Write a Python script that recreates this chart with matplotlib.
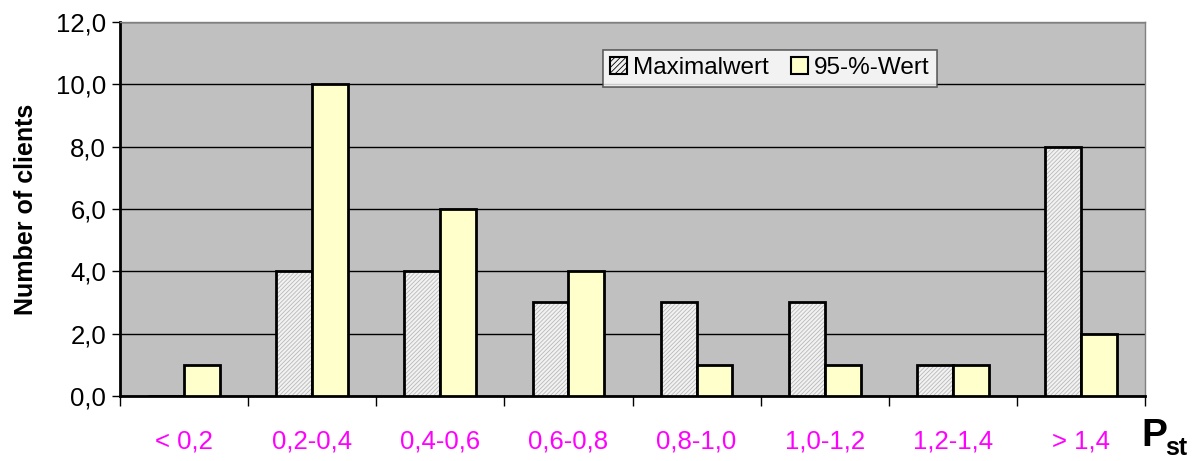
import matplotlib
matplotlib.use("Agg")
import matplotlib.pyplot as plt
import numpy as np
from matplotlib.ticker import FixedLocator, FuncFormatter
from matplotlib.patches import Patch

plt.rcParams['font.family'] = ['Liberation Sans', 'DejaVu Sans']
plt.rcParams['hatch.linewidth'] = 0.6

categories = ["< 0,2", "0,2-0,4", "0,4-0,6", "0,6-0,8", "0,8-1,0", "1,0-1,2", "1,2-1,4", "> 1,4"]
max_values = [0, 4, 4, 3, 3, 3, 1, 8]
p95_values = [1, 10, 6, 4, 1, 1, 1, 2]
y_ticks = [0, 2, 4, 6, 8, 10, 12]

fig = plt.figure(figsize=(12.01, 4.61), dpi=100)
ax = fig.add_axes([0.0999, 0.141, 0.8535, 0.8114])
ax.set_facecolor('#C0C0C0')

x = np.arange(len(categories))
w = 0.28
hatch_face = '#F2F2F2'
hatch_ink = '#B8B8B8'

# hatched fill for the maximum values, then a plain black outline on top
ax.bar(x - w / 2, max_values, w, color=hatch_face, edgecolor=hatch_ink,
       hatch='////////', linewidth=0, zorder=3)
ax.bar(x - w / 2, max_values, w, color='none', edgecolor='black',
       linewidth=2.0, zorder=4)
ax.bar(x + w / 2, p95_values, w, color='#FFFFCC', edgecolor='black',
       linewidth=2.0, zorder=4)

handles = [Patch(facecolor=hatch_face, edgecolor='black', hatch='//////', linewidth=1.5,
                 label='Maximalwert'),
           Patch(facecolor='#FFFFCC', edgecolor='black', linewidth=1.5, label='95-%-Wert')]
leg = ax.legend(handles=handles, loc='upper left', bbox_to_anchor=(0.471, 0.925),
                ncol=2, frameon=True, fancybox=False, fontsize=17.5, handlelength=0.7,
                handleheight=0.7, handletextpad=0.25, columnspacing=0.9,
                borderpad=0.3, borderaxespad=0)
leg.get_frame().set_edgecolor('#404040')
leg.get_frame().set_linewidth(1.2)
leg.set_zorder(6)

ax.set_xlim(-0.5, len(categories) - 0.5)
ax.set_ylim(0, 12)
ax.set_yticks(y_ticks)
ax.yaxis.set_major_formatter(FuncFormatter(lambda v, p: f"{v:.1f}".replace('.', ',')))
ax.grid(axis='y', color='black', linewidth=1.0, zorder=1)
ax.set_axisbelow(True)

ax.set_xticks(x)
ax.set_xticklabels(categories, color='#FF00FF', fontsize=18.5)
ax.xaxis.set_minor_locator(FixedLocator(np.arange(-0.5, len(categories) + 0.5, 1)))
ax.tick_params(axis='x', which='major', length=0, pad=24)
ax.tick_params(axis='x', which='minor', length=7, width=1, direction='out')
ax.tick_params(axis='y', which='major', length=6, width=1, direction='out', labelsize=18.5, pad=4)

for s in ['left', 'bottom']:
    ax.spines[s].set_linewidth(2)
    ax.spines[s].set_color('black')
for s in ['top', 'right']:
    ax.spines[s].set_linewidth(1)
    ax.spines[s].set_color('#808080')

ax.set_ylabel('Number of clients', fontsize=18, fontweight='bold', labelpad=13)

fig.text(0.950, 0.032, 'P', fontsize=28, fontweight='bold', ha='left', va='baseline')
fig.text(0.9705, 0.014, 'st', fontsize=18, fontweight='bold', ha='left', va='baseline')

fig.savefig('out.png', dpi=100)
